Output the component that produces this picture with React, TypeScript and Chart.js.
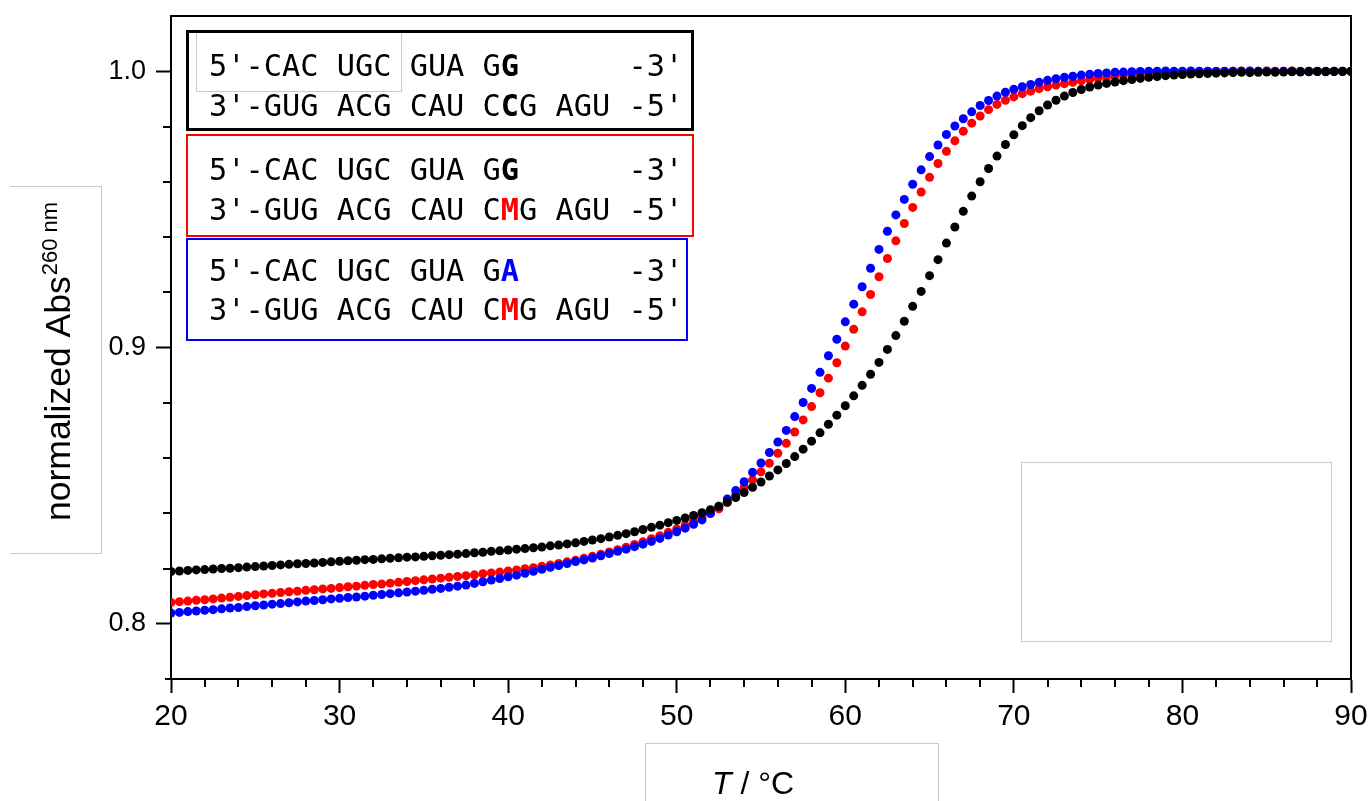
import React, { useEffect, useRef } from "react";
import { Chart, registerables } from "chart.js";

Chart.register(...registerables);

// Temperature in °C (0.5 °C steps, as recorded)
const temperatureC = [
  20, 20.5, 21, 21.5, 22, 22.5, 23, 23.5, 24, 24.5,
  25, 25.5, 26, 26.5, 27, 27.5, 28, 28.5, 29, 29.5,
  30, 30.5, 31, 31.5, 32, 32.5, 33, 33.5, 34, 34.5,
  35, 35.5, 36, 36.5, 37, 37.5, 38, 38.5, 39, 39.5,
  40, 40.5, 41, 41.5, 42, 42.5, 43, 43.5, 44, 44.5,
  45, 45.5, 46, 46.5, 47, 47.5, 48, 48.5, 49, 49.5,
  50, 50.5, 51, 51.5, 52, 52.5, 53, 53.5, 54, 54.5,
  55, 55.5, 56, 56.5, 57, 57.5, 58, 58.5, 59, 59.5,
  60, 60.5, 61, 61.5, 62, 62.5, 63, 63.5, 64, 64.5,
  65, 65.5, 66, 66.5, 67, 67.5, 68, 68.5, 69, 69.5,
  70, 70.5, 71, 71.5, 72, 72.5, 73, 73.5, 74, 74.5,
  75, 75.5, 76, 76.5, 77, 77.5, 78, 78.5, 79, 79.5,
  80, 80.5, 81, 81.5, 82, 82.5, 83, 83.5, 84, 84.5,
  85, 85.5, 86, 86.5, 87, 87.5, 88, 88.5, 89, 89.5,
  90,
];

// black: GG / CCG duplex
const absDuplexGC = [
  0.8189, 0.8191, 0.8193, 0.8195, 0.8196, 0.8198, 0.8200, 0.8201, 0.8203, 0.8205,
  0.8207, 0.8209, 0.8211, 0.8213, 0.8215, 0.8217, 0.8218, 0.8220, 0.8222, 0.8224,
  0.8226, 0.8228, 0.8230, 0.8232, 0.8233, 0.8235, 0.8237, 0.8239, 0.8241, 0.8242,
  0.8244, 0.8246, 0.8248, 0.8250, 0.8252, 0.8254, 0.8257, 0.8259, 0.8262, 0.8264,
  0.8267, 0.8270, 0.8272, 0.8275, 0.8278, 0.8282, 0.8285, 0.8289, 0.8293, 0.8298,
  0.8303, 0.8308, 0.8314, 0.8320, 0.8326, 0.8333, 0.8341, 0.8349, 0.8357, 0.8366,
  0.8374, 0.8383, 0.8392, 0.8402, 0.8413, 0.8425, 0.8440, 0.8457, 0.8475, 0.8494,
  0.8513, 0.8535, 0.8557, 0.8580, 0.8605, 0.8632, 0.8661, 0.8691, 0.8722, 0.8755,
  0.8789, 0.8825, 0.8863, 0.8903, 0.8946, 0.8993, 0.9043, 0.9095, 0.9149, 0.9203,
  0.9260, 0.9318, 0.9378, 0.9436, 0.9493, 0.9548, 0.9600, 0.9648, 0.9693, 0.9735,
  0.9770, 0.9803, 0.9832, 0.9857, 0.9878, 0.9895, 0.9910, 0.9923, 0.9934, 0.9943,
  0.9950, 0.9956, 0.9961, 0.9966, 0.9970, 0.9974, 0.9978, 0.9981, 0.9984, 0.9986,
  0.9988, 0.9990, 0.9991, 0.9992, 0.9993, 0.9994, 0.9995, 0.9996, 0.9995, 0.9996,
  0.9997, 0.9996, 0.9997, 0.9998, 0.9997, 0.9998, 0.9999, 0.9998, 0.9999, 1.0000,
  1.0000,
];

// red: GG / CMG duplex
const absDuplexGM = [
  0.8077, 0.8080, 0.8082, 0.8085, 0.8087, 0.8090, 0.8093, 0.8096, 0.8099, 0.8102,
  0.8105, 0.8108, 0.8110, 0.8113, 0.8116, 0.8118, 0.8121, 0.8123, 0.8126, 0.8128,
  0.8131, 0.8134, 0.8136, 0.8139, 0.8142, 0.8144, 0.8147, 0.8150, 0.8153, 0.8156,
  0.8159, 0.8162, 0.8165, 0.8168, 0.8171, 0.8174, 0.8177, 0.8181, 0.8184, 0.8187,
  0.8191, 0.8195, 0.8199, 0.8203, 0.8208, 0.8213, 0.8218, 0.8224, 0.8230, 0.8237,
  0.8244, 0.8252, 0.8260, 0.8268, 0.8277, 0.8287, 0.8297, 0.8308, 0.8319, 0.8331,
  0.8343, 0.8356, 0.8370, 0.8384, 0.8399, 0.8416, 0.8440, 0.8467, 0.8494, 0.8521,
  0.8550, 0.8581, 0.8617, 0.8653, 0.8694, 0.8738, 0.8786, 0.8836, 0.8889, 0.8945,
  0.9005, 0.9066, 0.9129, 0.9192, 0.9256, 0.9322, 0.9386, 0.9449, 0.9507, 0.9563,
  0.9616, 0.9666, 0.9710, 0.9748, 0.9783, 0.9812, 0.9838, 0.9861, 0.9880, 0.9895,
  0.9907, 0.9919, 0.9928, 0.9937, 0.9944, 0.9950, 0.9955, 0.9960, 0.9965, 0.9970,
  0.9975, 0.9979, 0.9983, 0.9986, 0.9989, 0.9991, 0.9993, 0.9995, 0.9996, 0.9997,
  0.9998, 0.9998, 0.9999, 0.9999, 1.0000, 0.9999, 1.0000, 1.0001, 1.0000, 1.0000,
  1.0001, 1.0000, 1.0000, 1.0001, 1.0000, 1.0000, 0.9999, 1.0000, 1.0000, 1.0000,
  1.0000,
];

// blue: GA / CMG duplex
const absDuplexAM = [
  0.8039, 0.8041, 0.8044, 0.8046, 0.8049, 0.8051, 0.8054, 0.8057, 0.8059, 0.8062,
  0.8065, 0.8068, 0.8071, 0.8073, 0.8076, 0.8079, 0.8082, 0.8084, 0.8087, 0.8090,
  0.8092, 0.8095, 0.8097, 0.8100, 0.8103, 0.8106, 0.8109, 0.8112, 0.8115, 0.8118,
  0.8121, 0.8125, 0.8128, 0.8132, 0.8136, 0.8140, 0.8146, 0.8152, 0.8158, 0.8164,
  0.8170, 0.8176, 0.8183, 0.8190, 0.8197, 0.8204, 0.8211, 0.8218, 0.8225, 0.8231,
  0.8238, 0.8246, 0.8254, 0.8262, 0.8270, 0.8279, 0.8288, 0.8298, 0.8309, 0.8321,
  0.8333, 0.8346, 0.8360, 0.8376, 0.8400, 0.8425, 0.8452, 0.8482, 0.8514, 0.8548,
  0.8582, 0.8620, 0.8658, 0.8700, 0.8750, 0.8801, 0.8852, 0.8910, 0.8970, 0.9030,
  0.9093, 0.9157, 0.9220, 0.9287, 0.9355, 0.9421, 0.9480, 0.9536, 0.9591, 0.9643,
  0.9691, 0.9733, 0.9771, 0.9802, 0.9828, 0.9853, 0.9876, 0.9894, 0.9910, 0.9924,
  0.9935, 0.9944, 0.9952, 0.9960, 0.9967, 0.9973, 0.9978, 0.9982, 0.9986, 0.9989,
  0.9992, 0.9994, 0.9996, 0.9997, 0.9998, 0.9999, 1.0000, 1.0000, 1.0001, 1.0000,
  1.0000, 1.0001, 1.0000, 1.0000, 0.9999, 1.0000, 1.0000, 1.0000, 1.0001, 1.0000,
  1.0000, 0.9999, 1.0000, 1.0000, 0.9999, 1.0000, 1.0000, 0.9999, 1.0000, 0.9999,
  0.9999,
];

const xMajorTicks = [20, 30, 40, 50, 60, 70, 80, 90];
const xMinorTicks = [22, 24, 26, 28, 32, 34, 36, 38, 42, 44, 46, 48, 52, 54, 56, 58, 62, 64, 66, 68, 72, 74, 76, 78, 82, 84, 86, 88];
const yMajorTicks = [0.8, 0.9, 1.0];
const yMinorTicks = [0.82, 0.84, 0.86, 0.88, 0.92, 0.94, 0.96, 0.98];

const xTitleItalic = "T";
const xTitleRest = " / °C";
const yTitleMain = "normalized Abs";
const yTitleSup = "260 nm";

const BLACK = "#000000";
const RED = "#ff0000";
const BLUE = "#0000ff";
const SANS = "'Liberation Sans', Arial, sans-serif";
const MONO = "'DejaVu Sans Mono', monospace";

const decorPlugin = {
  id: "decor",
  afterDraw(chart: any) {
    const { ctx, chartArea, scales } = chart;
    const { left, right, top, bottom } = chartArea;
    ctx.save();
    ctx.strokeStyle = "#000";
    ctx.lineWidth = 2;
    ctx.beginPath();
    ctx.moveTo(left - 1, top);
    ctx.lineTo(right, top);
    ctx.lineTo(right, bottom);
    ctx.stroke();

    ctx.beginPath();
    ctx.moveTo(left - 6, bottom);
    ctx.lineTo(left, bottom);
    for (const v of xMinorTicks) {
      const px = Math.round(scales.x.getPixelForValue(v));
      ctx.moveTo(px, bottom);
      ctx.lineTo(px, bottom + 8);
    }
    for (const v of yMinorTicks) {
      const py = Math.round(scales.y.getPixelForValue(v));
      ctx.moveTo(left, py);
      ctx.lineTo(left - 8, py);
    }
    ctx.stroke();

    // y title
    ctx.fillStyle = "#000";
    ctx.save();
    ctx.translate(70, 521);
    ctx.rotate(-Math.PI / 2);
    ctx.textBaseline = "alphabetic";
    ctx.textAlign = "left";
    ctx.font = `35.5px ${SANS}`;
    ctx.fillText(yTitleMain, 0, 0);
    const w = ctx.measureText(yTitleMain).width;
    ctx.font = `22px ${SANS}`;
    ctx.fillText(yTitleSup, w + 1, -13);
    ctx.restore();

    // x title
    ctx.textBaseline = "alphabetic";
    ctx.textAlign = "left";
    ctx.font = `italic 32px ${SANS}`;
    ctx.fillText(xTitleItalic, 712, 794);
    const tw = ctx.measureText(xTitleItalic).width;
    ctx.font = `32px ${SANS}`;
    ctx.fillText(xTitleRest, 712 + tw, 794);
    ctx.restore();
  },
};

function toPoints(values: number[]) {
  return temperatureC.map((t, i) => ({ x: t, y: values[i] }));
}

const grayBox = (style: React.CSSProperties): React.CSSProperties => ({
  position: "absolute",
  border: "1px solid #cbcbcb",
  boxSizing: "border-box",
  ...style,
});

function Line({ top, children }: { top: number; children: React.ReactNode }) {
  return (
    <div
      style={{
        position: "absolute",
        left: 209,
        top,
        fontFamily: MONO,
        fontSize: 30.3,
        lineHeight: "40px",
        whiteSpace: "pre",
        color: "#000",
      }}
    >
      {children}
    </div>
  );
}

const zeroPad = (s: any) => {
  s.paddingTop = 0;
  s.paddingBottom = 0;
  s.paddingLeft = 0;
  s.paddingRight = 0;
};

export default function App() {
  const canvasRef = useRef<HTMLCanvasElement | null>(null);

  useEffect(() => {
    if (!canvasRef.current) return;
    const pointStyle = { borderWidth: 0, pointRadius: 4.5, pointHoverRadius: 4.5 };
    const chart = new Chart(canvasRef.current, {
      type: "scatter",
      data: {
        datasets: [
          { label: "GG / CCG", data: toPoints(absDuplexGC), backgroundColor: BLACK, ...pointStyle },
          { label: "GA / CMG", data: toPoints(absDuplexAM), backgroundColor: BLUE, ...pointStyle },
          { label: "GG / CMG", data: toPoints(absDuplexGM), backgroundColor: RED, ...pointStyle },
        ],
      },
      options: {
        animation: false,
        responsive: false,
        maintainAspectRatio: false,
        events: [],
        layout: { padding: { top: 16, right: 17, bottom: 0, left: 0 } },
        plugins: { legend: { display: false }, tooltip: { enabled: false } },
        scales: {
          x: {
            type: "linear",
            min: 20,
            max: 90,
            afterBuildTicks: (s: any) => {
              s.ticks = xMajorTicks.map((v) => ({ value: v }));
            },
            afterFit: (s: any) => {
              s.height = 122;
              zeroPad(s);
            },
            ticks: {
              font: { family: SANS, size: 30 },
              color: "#000",
              padding: 6,
              maxRotation: 0,
              autoSkip: false,
              callback: (v: any) => String(v),
            },
            grid: {
              drawOnChartArea: false,
              drawTicks: true,
              tickLength: 14,
              tickWidth: 2,
              tickColor: "#000",
            },
            border: { display: true, color: "#000", width: 2 },
          },
          y: {
            type: "linear",
            min: 0.78,
            max: 1.02,
            afterBuildTicks: (s: any) => {
              s.ticks = yMajorTicks.map((v) => ({ value: v }));
            },
            afterFit: (s: any) => {
              s.width = 171;
              zeroPad(s);
            },
            ticks: {
              font: { family: SANS, size: 27 },
              color: "#000",
              padding: 10,
              autoSkip: false,
              callback: (v: any) => Number(v).toFixed(1),
            },
            grid: {
              drawOnChartArea: false,
              drawTicks: true,
              tickLength: 15,
              tickWidth: 2,
              tickColor: "#000",
            },
            border: { display: true, color: "#000", width: 2 },
          },
        },
      },
      plugins: [decorPlugin],
    } as any);
    return () => chart.destroy();
  }, []);

  return (
    <div
      style={{
        position: "absolute",
        left: 0,
        top: 0,
        width: 1368,
        height: 801,
        overflow: "hidden",
        background: "#fff",
      }}
    >
      <canvas ref={canvasRef} width={1368} height={801} style={{ width: 1368, height: 801, display: "block" }} />

      {/* faint frames */}
      <div style={grayBox({ left: 10, top: 186, width: 92, height: 368, borderLeft: "none" })} />
      <div style={grayBox({ left: 645, top: 743, width: 294, height: 70 })} />
      <div style={grayBox({ left: 1021, top: 462, width: 311, height: 180 })} />
      <div style={grayBox({ left: 196, top: 32, width: 206, height: 60 })} />

      {/* legend boxes */}
      <div style={{ position: "absolute", left: 186, top: 30, width: 508, height: 101, border: `3px solid ${BLACK}`, boxSizing: "border-box" }} />
      <div style={{ position: "absolute", left: 186, top: 134, width: 508, height: 103, border: `2px solid ${RED}`, boxSizing: "border-box" }} />
      <div style={{ position: "absolute", left: 186, top: 238, width: 502, height: 103, border: `2px solid ${BLUE}`, boxSizing: "border-box" }} />

      <Line top={46}>
        {"5'-CAC UGC GUA G"}
        <b>G</b>
        {"      -3'"}
      </Line>
      <Line top={86}>
        {"3'-GUG ACG CAU C"}
        <b>C</b>
        {"G AGU -5'"}
      </Line>

      <Line top={150}>
        {"5'-CAC UGC GUA G"}
        <b>G</b>
        {"      -3'"}
      </Line>
      <Line top={190}>
        {"3'-GUG ACG CAU C"}
        <b style={{ color: RED }}>M</b>
        {"G AGU -5'"}
      </Line>

      <Line top={251}>
        {"5'-CAC UGC GUA G"}
        <b style={{ color: BLUE }}>A</b>
        {"      -3'"}
      </Line>
      <Line top={290}>
        {"3'-GUG ACG CAU C"}
        <b style={{ color: RED }}>M</b>
        {"G AGU -5'"}
      </Line>
    </div>
  );
}
